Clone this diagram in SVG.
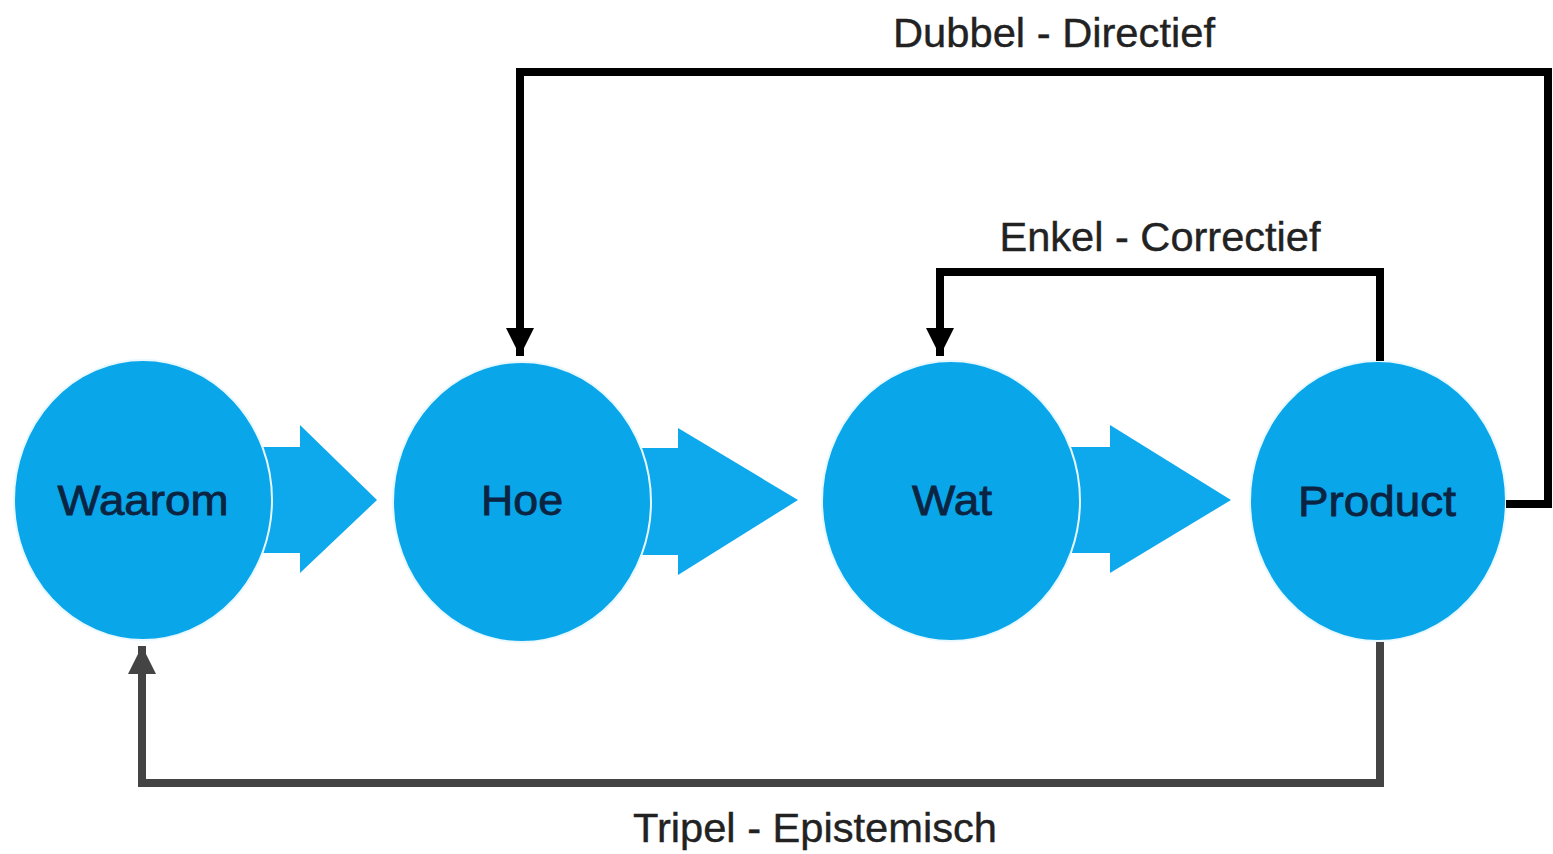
<svg xmlns="http://www.w3.org/2000/svg" width="1553" height="854" viewBox="0 0 1553 854">
<defs>
<style>
.node{fill:#0aa6ea;stroke:#e8f8ff;stroke-width:2}
.lbl{font-family:"Liberation Sans",Arial,sans-serif;font-size:42px;fill:#0a2442;stroke:#0a2442;stroke-width:0.8;text-anchor:middle}
.cap{font-family:"Liberation Sans",Arial,sans-serif;font-size:41px;fill:#222;stroke:#222;stroke-width:0.4;text-anchor:middle}
.blk{fill:#0ea8ec}
.conn{fill:none;stroke:#000;stroke-width:8}
.conn3{fill:none;stroke:#444;stroke-width:8}
</style>
<marker id="ah" markerUnits="userSpaceOnUse" viewBox="0 0 30 30" refX="30" refY="15" markerWidth="30" markerHeight="28" orient="auto"><path d="M0,0 L30,15 L0,30 Z" fill="#000"/></marker>
<marker id="ah3" markerUnits="userSpaceOnUse" viewBox="0 0 30 30" refX="30" refY="15" markerWidth="30" markerHeight="28" orient="auto"><path d="M0,0 L30,15 L0,30 Z" fill="#444"/></marker>
</defs>
<rect width="1553" height="854" fill="#fff"/>
<g id="flow-arrows">
<polygon class="blk" points="255,447 300,447 300,425 377,500 300,573 300,553 255,553"/>
<polygon class="blk" points="640,448 678,448 678,428 798,500 678,575 678,555 640,555"/>
<polygon class="blk" points="1070,447 1110,447 1110,425 1231,500 1110,573 1110,553 1070,553"/>
</g>
<g id="node-waarom"><ellipse class="node" cx="143" cy="500" rx="129" ry="140"/><text class="lbl" x="143" y="515" textLength="171" lengthAdjust="spacingAndGlyphs">Waarom</text></g>
<g id="node-hoe"><ellipse class="node" cx="522" cy="502" rx="129" ry="140"/><text class="lbl" x="522" y="515" textLength="82" lengthAdjust="spacingAndGlyphs">Hoe</text></g>
<g id="node-wat"><ellipse class="node" cx="951" cy="501" rx="129" ry="140"/><text class="lbl" x="952" y="515" textLength="80" lengthAdjust="spacingAndGlyphs">Wat</text></g>
<g id="node-product"><ellipse class="node" cx="1378" cy="501" rx="128" ry="140"/><text class="lbl" x="1377" y="516" textLength="158" lengthAdjust="spacingAndGlyphs">Product</text></g>
<g id="connectors">
<path class="conn" d="M1506,504 H1548 V72 H520 V356" marker-end="url(#ah)"/>
<path class="conn" d="M1380,361 V272 H940 V356" marker-end="url(#ah)"/>
<path class="conn3" d="M1380,642 V783 H142 V646" marker-end="url(#ah3)"/>
</g>
<g id="labels">
<text class="cap" x="1054" y="47" textLength="322" lengthAdjust="spacingAndGlyphs">Dubbel - Directief</text>
<text class="cap" x="1160" y="251" textLength="321" lengthAdjust="spacingAndGlyphs">Enkel - Correctief</text>
<text class="cap" x="815" y="842" textLength="364" lengthAdjust="spacingAndGlyphs">Tripel - Epistemisch</text>
</g>
</svg>
